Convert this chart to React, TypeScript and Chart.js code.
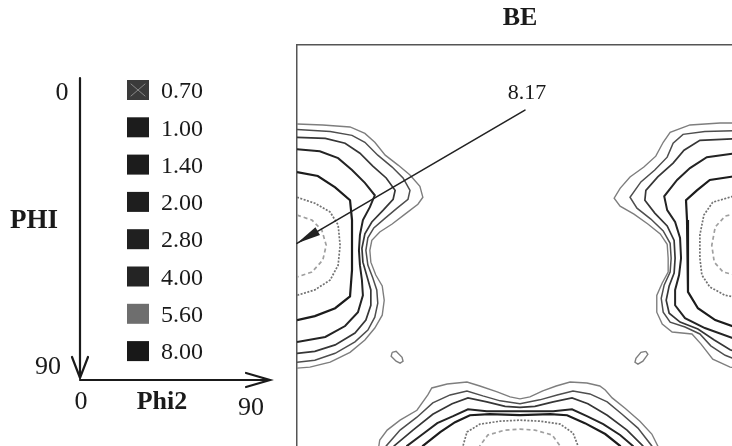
import React, { useEffect, useRef } from 'react';
import { Chart, registerables } from 'chart.js';

Chart.register(...registerables);

type Pt = [number, number]; // [phi2, PHI] in degrees

const chartTitle = 'BE';
const levels = ['0.70', '1.00', '1.40', '2.00', '2.80', '4.00', '5.60', '8.00'];
const phiTicks = ['0', '90'];
const phi2Ticks = ['0', '90'];
const phiName = 'PHI';
const phi2Name = 'Phi2';
const peakValue = '8.17';
const peakAt: Pt = [0, 40.0];
const peakTail: Pt = [46.0, 13.1];
const peakLabelAt: Pt = [46.4, 9.7];

// ---- contour lines (phi2, PHI) ----
const left070: Pt[] = [[0,15.9],[5.2,16.1],[10.7,16.5],[13.7,17.8],[15.7,19.6],[17.8,22.2],[20.4,24.2],[22.8,26.2],[24.8,28.5],[25.4,30.7],[24.4,32.1],[21.8,34.1],[19.2,36.1],[16.7,37.7],[15.1,39.4],[14.7,41.4],[14.9,43.8],[15.9,46.4],[17.2,48.6],[17.6,51.5],[17.2,54.5],[15.7,57.1],[13.7,59.5],[10.7,62.0],[6.7,64.0],[2.6,65.0],[0,65.2]];
const left100: Pt[] = [[0,17.0],[6.7,17.4],[11.1,18.2],[13.7,19.6],[16.3,22.2],[19.2,24.6],[21.4,26.8],[22.8,29.3],[22.4,31.1],[20.2,32.9],[17.8,34.9],[15.5,36.9],[14.3,38.9],[13.9,41.4],[14.3,44.4],[15.3,47.0],[16.1,49.4],[16.3,52.1],[15.7,54.9],[14.3,57.5],[11.7,59.9],[7.7,62.2],[3.6,63.6],[0,64.0]];
const left140: Pt[] = [[0,18.6],[5.7,18.8],[9.7,19.8],[12.7,21.8],[15.3,24.4],[18.0,26.8],[19.8,29.3],[19.4,31.1],[17.4,33.3],[15.1,35.7],[13.7,38.1],[13.1,41.0],[13.3,43.8],[14.1,46.6],[14.9,49.4],[14.9,52.5],[13.9,55.5],[11.7,58.1],[7.7,60.5],[3.6,61.8],[0,62.2]];
const left200: Pt[] = [[0,21.0],[4.6,21.4],[8.3,22.8],[11.1,25.2],[13.7,27.8],[15.7,30.3],[14.7,32.7],[13.3,35.3],[12.7,38.3],[12.5,41.4],[12.7,44.4],[13.1,47.4],[13.3,50.5],[12.3,53.9],[9.7,56.7],[5.7,58.9],[0,59.9]];
const left280: Pt[] = [[0,25.6],[4.2,26.4],[7.7,28.7],[10.7,31.3],[11.1,35.3],[11.1,40.4],[11.1,45.4],[10.7,50.7],[7.7,53.1],[3.6,54.7],[0,55.5]];
const left400: Pt[] = [[0,30.7],[3.6,31.9],[6.7,33.7],[8.3,36.3],[8.7,40.4],[8.3,44.4],[6.7,47.4],[3.6,49.4],[0,50.5]];
const left560: Pt[] = [[0,34.3],[3.0,35.3],[5.0,37.3],[5.9,40.4],[5.2,43.4],[3.0,45.8],[0,46.8]];

const right070: Pt[] = [[90,15.7],[85.4,15.7],[79.3,16.1],[75.3,17.6],[73.9,19.6],[72.4,22.4],[70.0,24.6],[67.2,26.6],[65.2,28.9],[64.0,30.9],[65.2,32.5],[68.0,34.1],[70.8,36.1],[73.3,38.1],[74.7,40.2],[74.9,43.0],[74.9,45.8],[73.7,48.0],[72.6,50.5],[72.6,53.9],[73.7,56.3],[75.7,57.9],[79.7,58.3],[81.5,60.3],[83.9,63.4],[87.4,65.0],[90,65.4]];
const right100: Pt[] = [[90,17.2],[82.3,17.4],[77.9,18.0],[75.9,19.8],[74.7,22.6],[72.2,25.2],[69.4,27.6],[67.2,30.7],[68.6,32.9],[71.4,35.1],[73.9,37.5],[75.3,40.0],[75.5,43.0],[75.3,45.8],[74.1,48.4],[73.5,51.1],[73.9,53.9],[75.3,55.9],[78.3,56.9],[81.3,58.3],[83.5,60.7],[86.4,62.6],[90,64.0]];
const right140: Pt[] = [[90,18.8],[81.3,19.2],[78.1,21.2],[75.9,23.8],[72.8,26.6],[70.4,29.3],[70.2,31.3],[72.2,33.9],[74.7,36.5],[76.1,39.4],[76.3,43.0],[76.1,46.0],[75.1,48.6],[74.5,51.5],[75.1,54.1],[77.3,55.9],[80.9,57.3],[84.2,59.5],[87.4,61.5],[90,62.4]];
const right200: Pt[] = [[90,21.6],[82.7,22.6],[79.3,24.8],[76.7,27.2],[74.1,30.5],[74.7,33.3],[76.3,35.7],[77.3,38.9],[77.5,43.0],[77.1,46.4],[76.3,49.4],[76.3,52.5],[78.3,55.1],[82.3,57.1],[90,59.9]];
const right280: Pt[] = [[90,26.2],[83.3,27.2],[80.7,29.3],[78.5,31.3],[78.7,35.3],[78.9,40.4],[78.9,45.4],[78.9,49.8],[80.9,53.1],[84.4,55.5],[90,57.5]];
const right400: Pt[] = [[90,29.9],[83.9,31.7],[82.1,34.3],[81.3,38.3],[81.3,43.0],[81.7,46.4],[83.3,48.8],[86.4,50.5],[90,51.1]];
const right560: Pt[] = [[90,33.7],[86.4,34.5],[84.4,36.7],[83.7,40.4],[84.2,43.8],[86.0,45.8],[90,46.8]];

const bottom070: Pt[] = [[15.1,90],[16.7,79.7],[18.2,77.7],[20.8,75.7],[24.2,73.7],[26.4,70.6],[27.2,69.2],[30.3,68.4],[34.3,68.0],[36.9,68.8],[40.4,70.0],[43.0,71.0],[45.0,71.4],[47.0,71.0],[49.6,69.8],[52.3,68.8],[55.1,68.0],[58.5,68.2],[61.1,68.8],[62.2,69.6],[63.6,71.2],[66.2,73.3],[69.2,75.9],[71.6,78.5],[72.8,80.9],[74.3,90]];
const bottom100: Pt[] = [[16.3,90],[18.0,80.9],[20.8,77.7],[24.2,75.1],[27.4,72.2],[30.9,70.6],[34.3,69.8],[37.5,70.8],[41.0,71.8],[45.0,72.4],[49.0,71.6],[52.5,70.6],[55.7,69.8],[59.1,70.4],[62.6,72.0],[65.6,74.5],[68.8,77.3],[71.6,80.9],[73.3,90]];
const bottom140: Pt[] = [[17.8,90],[19.6,80.9],[23.4,77.7],[27.4,74.5],[31.3,72.4],[34.5,71.2],[38.3,72.0],[42.0,72.9],[45.0,73.1],[48.0,72.9],[51.7,72.0],[55.5,71.2],[58.7,72.4],[62.6,74.7],[66.6,77.7],[69.8,80.9],[71.6,90]];
const bottom200: Pt[] = [[20.4,90],[22.2,80.9],[25.4,78.5],[28.3,76.3],[31.5,74.9],[34.5,73.5],[38.3,73.9],[42.0,73.9],[45.0,73.9],[48.0,73.9],[51.7,73.9],[55.5,73.5],[58.5,74.9],[61.8,76.5],[65.2,78.7],[67.8,80.9],[69.6,90]];
const bottom280: Pt[] = [[23.8,90],[25.4,80.9],[28.9,78.1],[31.9,76.1],[34.9,74.7],[38.9,74.5],[45.0,74.7],[51.1,74.5],[54.5,74.7],[58.1,76.3],[62.2,78.5],[65.2,80.9],[66.8,90]];
const bottom400: Pt[] = [[32.9,90],[33.5,80.9],[34.3,78.1],[36.9,76.5],[41.0,75.9],[45.0,75.7],[49.0,75.9],[53.1,76.5],[55.7,78.3],[56.7,80.9],[57.1,90]];
const bottom560: Pt[] = [[36.5,90],[36.9,80.9],[38.5,78.7],[42.0,77.7],[45.0,77.5],[48.0,77.7],[51.5,78.7],[53.1,80.9],[53.5,90]];

const islandLeft: Pt[] = [[19.2,62.0],[20.0,61.8],[21.2,63.0],[21.4,63.8],[20.8,64.2],[20.0,63.8],[19.0,62.8],[19.2,62.0]];
const islandRight: Pt[] = [[70.4,61.8],[70.8,62.4],[69.8,63.8],[68.8,64.4],[68.2,64.0],[68.4,63.2],[69.4,62.0],[70.4,61.8]];

const contoursByLevel: Pt[][][] = [
  [left070, right070, bottom070, islandLeft, islandRight],
  [left100, right100, bottom100],
  [left140, right140, bottom140],
  [left200, right200, bottom200],
  [left280, right280, bottom280],
  [left400, right400, bottom400],
  [left560, right560, bottom560],
  [],
];

// ---- styles ----
const lineColors = ['#7e7e7e', '#4e4e4e', '#363636', '#242424', '#1c1c1c', '#727272', '#a0a0a0', '#444444'];
const lineWidths = [1.4, 1.5, 1.7, 2.0, 2.2, 1.7, 1.7, 1.5];
const lineDashes: number[][] = [[], [], [], [], [], [2, 1.5], [4, 3], []];
const swatchColors = ['#3a3a3a', '#1c1c1c', '#1c1c1c', '#1e1e1e', '#202020', '#242424', '#6e6e6e', '#181818'];

const SERIF = '"Liberation Serif", "Times New Roman", serif';
const INK = '#1a1a1a';

function joinSegments(segs: Pt[][]) {
  const out: { x: number; y: number }[] = [];
  segs.forEach((s, i) => {
    if (i > 0) out.push({ x: NaN, y: NaN });
    s.forEach(([x, y]) => out.push({ x, y }));
  });
  return out;
}

const overlayPlugin = {
  id: 'odfOverlay',
  afterDraw(chart: any) {
    const ctx: CanvasRenderingContext2D = chart.ctx;
    const xs = chart.scales.x;
    const ys = chart.scales.y;
    ctx.save();

    // axis diagram
    ctx.strokeStyle = INK;
    ctx.lineWidth = 2.2;
    ctx.lineCap = 'round';
    ctx.beginPath();
    ctx.moveTo(80, 78);
    ctx.lineTo(80, 378);
    ctx.moveTo(72, 357);
    ctx.lineTo(80, 378);
    ctx.lineTo(88, 357);
    ctx.moveTo(80, 380);
    ctx.lineTo(270, 380);
    ctx.moveTo(246, 373);
    ctx.lineTo(270, 380);
    ctx.lineTo(246, 387);
    ctx.stroke();

    ctx.fillStyle = INK;
    ctx.textAlign = 'center';
    ctx.textBaseline = 'middle';
    ctx.font = `26px ${SERIF}`;
    ctx.fillText(phiTicks[0], 62, 93);
    ctx.fillText(phiTicks[1], 48, 367);
    ctx.fillText(phi2Ticks[0], 81, 402);
    ctx.fillText(phi2Ticks[1], 251, 408);
    ctx.font = `bold 27px ${SERIF}`;
    ctx.fillText(phiName, 34, 221);
    ctx.font = `bold 26px ${SERIF}`;
    ctx.fillText(phi2Name, 162, 402);

    // level legend
    ctx.textAlign = 'left';
    ctx.font = `24px ${SERIF}`;
    levels.forEach((lab, i) => {
      const cy = 90 + 37.3 * i;
      ctx.fillStyle = swatchColors[i];
      ctx.fillRect(127, cy - 10, 22, 20);
      if (i === 0) {
        ctx.strokeStyle = '#9a9a9a';
        ctx.lineWidth = 0.8;
        ctx.beginPath();
        ctx.moveTo(131, cy - 6);
        ctx.lineTo(145, cy + 6);
        ctx.moveTo(145, cy - 6);
        ctx.lineTo(131, cy + 6);
        ctx.stroke();
      }
      ctx.fillStyle = INK;
      ctx.fillText(lab, 161, cy + 2);
    });

    // maximum annotation
    const tx = xs.getPixelForValue(peakAt[0]);
    const ty = ys.getPixelForValue(peakAt[1]);
    const sx = xs.getPixelForValue(peakTail[0]);
    const sy = ys.getPixelForValue(peakTail[1]);
    ctx.strokeStyle = '#222';
    ctx.lineWidth = 1.6;
    ctx.beginPath();
    ctx.moveTo(sx, sy);
    ctx.lineTo(tx, ty);
    ctx.stroke();
    const ang = Math.atan2(ty - sy, tx - sx);
    const L = 24, W = 4.5;
    ctx.fillStyle = '#222';
    ctx.beginPath();
    ctx.moveTo(tx, ty);
    ctx.lineTo(tx - L * Math.cos(ang) + W * Math.sin(ang), ty - L * Math.sin(ang) - W * Math.cos(ang));
    ctx.lineTo(tx - L * Math.cos(ang) - W * Math.sin(ang), ty - L * Math.sin(ang) + W * Math.cos(ang));
    ctx.closePath();
    ctx.fill();
    ctx.fillStyle = INK;
    ctx.textAlign = 'center';
    ctx.font = `22px ${SERIF}`;
    ctx.fillText(peakValue, xs.getPixelForValue(peakLabelAt[0]), ys.getPixelForValue(peakLabelAt[1]));

    ctx.restore();
  },
};

export default function App() {
  const ref = useRef<HTMLCanvasElement | null>(null);
  useEffect(() => {
    if (!ref.current) return;
    const datasets = levels.map((lab, i) => ({
      label: lab,
      data: joinSegments(contoursByLevel[i]),
      showLine: true,
      spanGaps: false,
      borderColor: lineColors[i],
      backgroundColor: swatchColors[i],
      borderWidth: lineWidths[i],
      borderDash: lineDashes[i],
      pointRadius: 0,
      pointHoverRadius: 0,
      tension: 0,
      fill: false,
    }));
    const chart = new Chart(ref.current, {
      type: 'scatter',
      data: { datasets },
      options: {
        animation: false,
        responsive: false,
        devicePixelRatio: 1,
        events: [],
        layout: { padding: { left: 297, right: 17, top: 0, bottom: 9 } },
        plugins: {
          legend: { display: false },
          tooltip: { enabled: false },
          title: {
            display: true,
            text: chartTitle,
            fullSize: false,
            color: INK,
            font: { family: SERIF, size: 26, weight: 'bold' },
            padding: { top: 3, bottom: 11 },
          },
        },
        scales: {
          x: {
            type: 'linear',
            position: 'top',
            min: 0,
            max: 90,
            ticks: { display: false },
            grid: { display: false, drawTicks: false },
            border: { display: true, color: '#555', width: 1.5 },
          },
          y: {
            type: 'linear',
            position: 'left',
            reverse: true,
            min: 0,
            max: 90,
            ticks: { display: false },
            grid: { display: false, drawTicks: false },
            border: { display: true, color: '#555', width: 1.5 },
          },
        },
      } as any,
      plugins: [overlayPlugin],
    });
    return () => chart.destroy();
  }, []);
  return (
    <div style={{ position: 'fixed', left: 0, top: 0, width: 732, height: 446, overflow: 'hidden', background: '#fff' }}>
      <canvas ref={ref} width={760} height={500} style={{ display: 'block', width: 760, height: 500 }} />
    </div>
  );
}
